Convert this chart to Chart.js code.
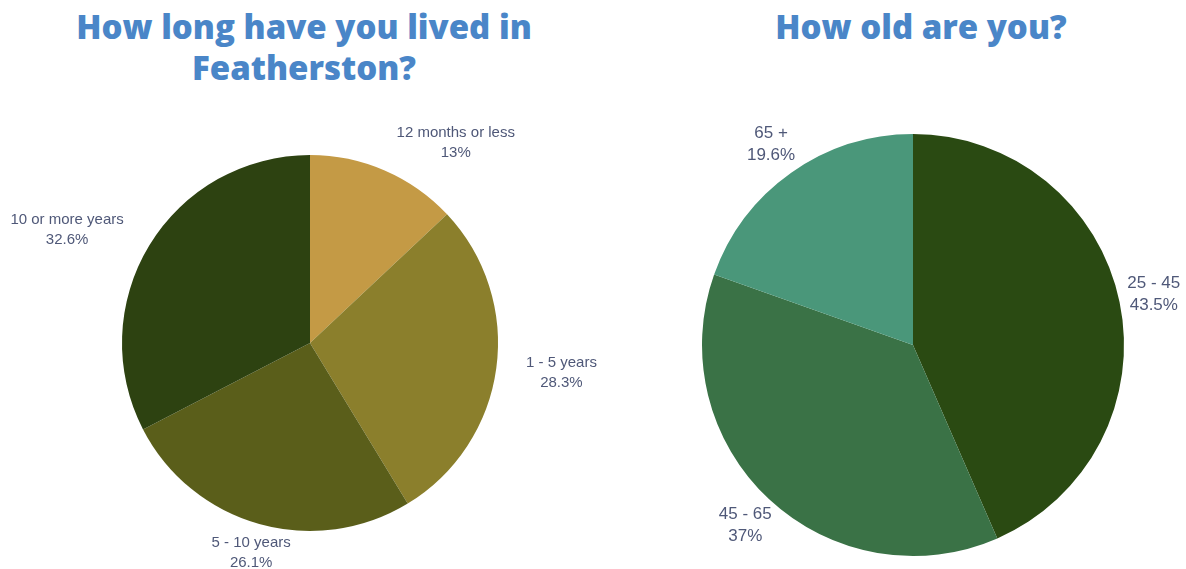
<!DOCTYPE html>
<html>
<head>
<meta charset="utf-8">
<script src="https://cdn.jsdelivr.net/npm/chart.js@4/dist/chart.umd.min.js"></script>
<style>
  body { margin: 0; background: #fff; width: 1186px; height: 569px; overflow: hidden; position: relative; }
  .title { position: absolute; font-family: "Open Sans", sans-serif; font-weight: 800; font-size: 33px; line-height: 41px; color: #4a86c8; text-align: center; white-space: nowrap; }
  .box { position: absolute; top: 100px; height: 469px; }
</style>
</head>
<body>
<div class="title" style="left:54px;width:500px;top:6px;">How long have you lived in<br>Featherston?</div>
<div class="title" style="left:671px;width:500px;top:6px;">How old are you?</div>
<div class="box" style="left:0;width:620px;"><canvas id="pieStay"></canvas></div>
<div class="box" style="left:600px;width:586px;"><canvas id="pieAge"></canvas></div>
<script>
const stayLabels = ['12 months or less', '1 - 5 years', '5 - 10 years', '10 or more years'];
const stayValues = [13, 28.3, 26.1, 32.6];
const stayColors = ['#c49a45', '#8b7f2c', '#5a5e1a', '#2d4211'];

const ageLabels = ['25 - 45', '45 - 65', '65 +'];
const ageValues = [43.5, 37, 19.6];
const ageColors = ['#2a4a12', '#3a7246', '#4a977a'];

// labels outside each slice, name on top and percent below (lines centred in the block)
// mode 'side': block anchored at r+dist, pushed away from the pie sideways
// mode 'center': block centred on the point at r+dist
const outLabels = {
  id: 'outLabels',
  afterDatasetsDraw(chart, args, opts) {
    const ctx = chart.ctx;
    const meta = chart.getDatasetMeta(0);
    const vals = chart.data.datasets[0].data;
    ctx.save();
    ctx.font = opts.size + 'px "Liberation Sans", Arial, sans-serif';
    ctx.fillStyle = '#4f5878';
    ctx.textBaseline = 'middle';
    ctx.textAlign = 'center';
    meta.data.forEach((arc, i) => {
      const p = arc.getProps(['x', 'y', 'startAngle', 'endAngle', 'outerRadius'], true);
      const mid = (p.startAngle + p.endAngle) / 2;
      const c = Math.cos(mid), s = Math.sin(mid);
      const d = p.outerRadius + opts.dist;
      const lines = [chart.data.labels[i], vals[i] + '%'];
      const w = Math.max(...lines.map(t => ctx.measureText(t).width));
      let x = p.x + c * d;
      const y = p.y + s * d;
      if (opts.mode === 'side' && Math.abs(c) > 0.3) {
        x += c > 0 ? w / 2 : -w / 2;
      }
      ctx.fillText(lines[0], x, y - opts.gap / 2);
      ctx.fillText(lines[1], x, y + opts.gap / 2);
    });
    ctx.restore();
  }
};

function makePie(id, labels, values, colors, padding, labelOpts) {
  return new Chart(document.getElementById(id), {
    type: 'pie',
    data: {
      labels: labels,
      datasets: [{ data: values, backgroundColor: colors, borderWidth: 0 }]
    },
    options: {
      responsive: true,
      maintainAspectRatio: false,
      animation: false,
      layout: { padding: padding },
      plugins: {
        legend: { display: false },
        tooltip: { enabled: false },
        outLabels: labelOpts
      }
    },
    plugins: [outLabels]
  });
}

window.stayPie = makePie('pieStay', stayLabels, stayValues, stayColors,
  { left: 122, right: 122, top: 55, bottom: 38 }, { mode: 'side', dist: 30, size: 15, gap: 20 });
window.agePie = makePie('pieAge', ageLabels, ageValues, ageColors,
  { left: 102, right: 62, top: 34, bottom: 13 }, { mode: 'center', dist: 35, size: 17, gap: 22 });
</script>
</body>
</html>
